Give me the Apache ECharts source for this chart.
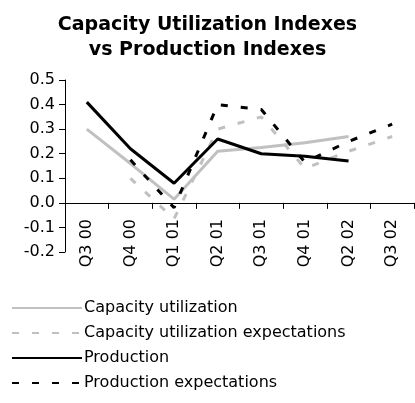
<!DOCTYPE html>
<html>
<head>
<meta charset="utf-8">
<script src="https://cdn.jsdelivr.net/npm/echarts@6/dist/echarts.min.js"></script>
<style>
  html, body { margin: 0; padding: 0; background: #fff; }
  #chart { width: 415px; height: 403px; }
</style>
</head>
<body>
<div id="chart"></div>
<script>
// quarters shown on the x axis
var quarters = ['Q3 00', 'Q4 00', 'Q1 01', 'Q2 01', 'Q3 01', 'Q4 01', 'Q2 02', 'Q3 02'];
var yTicks = [-0.2, -0.1, 0.0, 0.1, 0.2, 0.3, 0.4, 0.5];

var capacityUtil = [0.30, 0.16, 0.015, 0.21, 0.225, 0.245, 0.27, null];
var capacityExp = [null, 0.10, -0.065, 0.30, 0.35, 0.14, 0.21, 0.27];
var production = [0.41, 0.22, 0.08, 0.26, 0.20, 0.19, 0.17, null];
var productionExp = [null, 0.175, -0.02, 0.40, 0.38, 0.165, 0.25, 0.32];

var chart = echarts.init(document.getElementById('chart'));
var font = 'Verdana, "DejaVu Sans", sans-serif';

function mkSeries(name, data, color, dashed, z) {
  return {
    name: name,
    type: 'line',
    data: data,
    symbol: 'none',
    z: z,
    connectNulls: false,
    lineStyle: { color: color, width: 3, type: dashed ? [7, 13] : 'solid' },
    itemStyle: { color: color }
  };
}

var option = {
  animation: false,
  textStyle: { fontFamily: font },
  title: {
    text: 'Capacity Utilization Indexes\nvs Production Indexes',
    left: 'center',
    top: 8,
    textStyle: { fontFamily: font, fontSize: 19, fontWeight: 'bold', color: '#000', lineHeight: 25 }
  },
  legend: {
    orient: 'vertical',
    left: 11,
    top: 300,
    padding: 0,
    height: 103,
    itemWidth: 70,
    itemHeight: 12,
    itemGap: 9,
    itemStyle: { opacity: 0 },
    textStyle: { fontFamily: font, fontSize: 16, color: '#000', padding: [0, 0, 0, -3] },
    data: ['Capacity utilization', 'Capacity utilization expectations', 'Production', 'Production expectations']
  },
  grid: { left: 65, top: 80, width: 349, height: 172 },
  xAxis: {
    type: 'category',
    data: quarters,
    boundaryGap: true,
    axisLine: { onZero: true, lineStyle: { color: '#000', width: 1 } },
    axisTick: { show: true, alignWithLabel: false, length: 6, lineStyle: { color: '#000' } },
    axisLabel: { rotate: 90, margin: -33, fontSize: 16, color: '#000', fontFamily: font, interval: 0 },
    splitLine: { show: false }
  },
  yAxis: {
    type: 'value',
    min: yTicks[0],
    max: yTicks[yTicks.length - 1],
    interval: 0.1,
    axisLine: { show: true, lineStyle: { color: '#000', width: 1 } },
    axisTick: { show: true, length: 6, lineStyle: { color: '#000' } },
    axisLabel: {
      fontSize: 16, color: '#000', fontFamily: font, margin: 10,
      formatter: function (v) { return v.toFixed(1); }
    },
    splitLine: { show: false }
  },
  series: [
    mkSeries('Capacity utilization', capacityUtil, '#c0c0c0', false, 2),
    mkSeries('Capacity utilization expectations', capacityExp, '#c0c0c0', true, 3),
    mkSeries('Production', production, '#000000', false, 4),
    mkSeries('Production expectations', productionExp, '#000000', true, 5)
  ]
};

chart.setOption(option);
window.addEventListener('resize', function () {
  chart.resize();
});
</script>
</body>
</html>
